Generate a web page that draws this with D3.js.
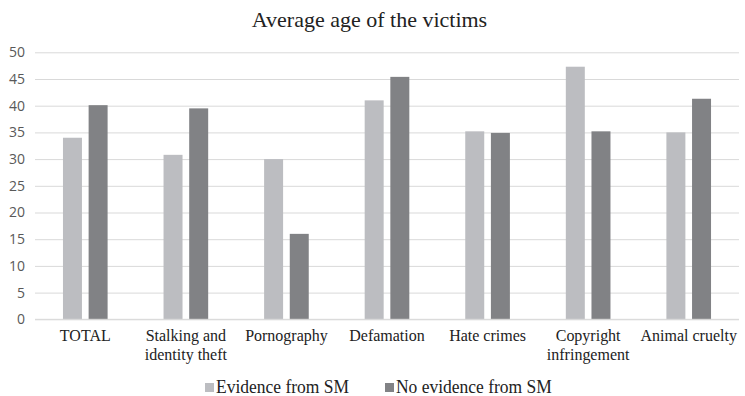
<!DOCTYPE html>
<html>
<head>
<meta charset="utf-8">
<script src="https://cdn.jsdelivr.net/npm/d3@7"></script>
<style>
  html, body { margin: 0; padding: 0; background: #fff; }
  svg { display: block; }
</style>
</head>
<body>
<svg id="chart" width="745" height="396"></svg>
<script>
// Crime categories and average victim age per group
const categories = ["TOTAL", "Stalking and\nidentity theft", "Pornography", "Defamation", "Hate crimes", "Copyright\ninfringement", "Animal cruelty"];
const seriesNames = ["Evidence from SM", "No evidence from SM"];
const evidenceFromSM = [34.0, 30.8, 30.0, 41.0, 35.2, 47.3, 35.0];
const noEvidenceFromSM = [40.1, 39.5, 16.0, 45.4, 34.9, 35.2, 41.3];
const yTicks = [0, 5, 10, 15, 20, 25, 30, 35, 40, 45, 50];

const colors = ["#bcbdc1", "#818285"];
const series = [evidenceFromSM, noEvidenceFromSM];

const svg = d3.select("#chart");
const margin = { left: 35, right: 6, top: 52.3, bottom: 76.7 };
const W = 745, H = 396;
const serif = "'Liberation Serif', 'Times New Roman', serif";

const x = d3.scaleBand()
  .domain(categories)
  .range([margin.left, W - margin.right])
  .paddingInner(0)
  .paddingOuter(0);

const xInner = d3.scaleBand()
  .domain(d3.range(series.length))
  .range([0, x.bandwidth()])
  .paddingInner(0.26)
  .paddingOuter(1.09);

const y = d3.scaleLinear()
  .domain([0, 50])
  .range([H - margin.bottom, margin.top]);

// Horizontal gridlines
const grid = svg.append("g")
  .attr("transform", `translate(${margin.left},0)`)
  .call(d3.axisLeft(y).tickValues(yTicks).tickSize(-(W - margin.left - margin.right)).tickFormat(""));
grid.select(".domain").remove();
grid.selectAll("line").attr("stroke", "#d9d9d9").attr("stroke-width", 1);

// Y axis labels
const yAxis = svg.append("g")
  .attr("transform", `translate(${margin.left},0)`)
  .call(d3.axisLeft(y).tickValues(yTicks).tickSize(0).tickPadding(10));
yAxis.select(".domain").remove();
yAxis.selectAll("text")
  .attr("fill", "#595959")
  .style("font-family", "'Open Sans', 'Liberation Sans', sans-serif")
  .style("font-size", "14px");

// Bars
series.forEach((vals, si) => {
  svg.append("g").selectAll("rect")
    .data(vals)
    .join("rect")
    .attr("x", (d, i) => x(categories[i]) + xInner(si))
    .attr("width", xInner.bandwidth())
    .attr("y", d => y(d))
    .attr("height", d => y(0) - y(d))
    .attr("fill", colors[si]);
});

// Baseline
svg.append("line")
  .attr("x1", margin.left).attr("x2", W - margin.right)
  .attr("y1", y(0)).attr("y2", y(0))
  .attr("stroke", "#d9d9d9").attr("stroke-width", 1);

// Category labels (two lines where needed), slightly tall glyphs
const xLabels = svg.append("g")
  .style("font-family", serif)
  .style("font-size", "16px")
  .attr("fill", "#222");
categories.forEach(c => {
  const cx = x(c) + x.bandwidth() / 2;
  const t = xLabels.append("text")
    .attr("transform", `translate(${cx},${y(0) + 22}) scale(1,1.08)`)
    .attr("text-anchor", "middle");
  c.split("\n").forEach((line, li) => {
    t.append("tspan")
      .attr("x", 0)
      .attr("dy", li === 0 ? 0 : 17)
      .text(line);
  });
});

// Title
svg.append("text")
  .attr("x", 369.5)
  .attr("y", 26.5)
  .attr("text-anchor", "middle")
  .style("font-family", serif)
  .style("font-size", "22px")
  .attr("fill", "#222")
  .text("Average age of the victims");

// Legend
const legendX = [205, 385];
const legend = svg.append("g");
seriesNames.forEach((name, i) => {
  legend.append("rect")
    .attr("x", legendX[i]).attr("y", 383)
    .attr("width", 9).attr("height", 9)
    .attr("fill", colors[i]);
  legend.append("text")
    .attr("transform", `translate(${legendX[i] + 11},393) scale(1,1.1)`)
    .style("font-family", serif)
    .style("font-size", "17.5px")
    .attr("fill", "#222")
    .text(name);
});
</script>
</body>
</html>
